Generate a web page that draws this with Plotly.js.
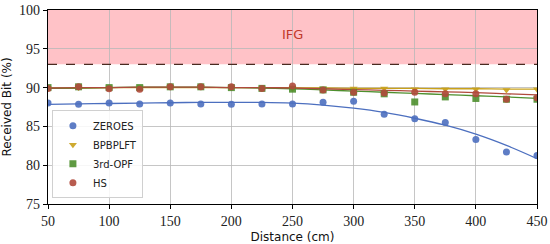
<!DOCTYPE html>
<html>
<head>
<meta charset="utf-8">
<script src="https://cdn.plot.ly/plotly-3.0.1.min.js"></script>
<style>html,body{margin:0;padding:0;background:#fff;}#chart{width:550px;height:244px;}</style>
</head>
<body>
<div id="chart"></div>
<script>
const distance = [50,75,100,125,150,175,200,225,250,275,300,325,350,375,400,425,450];
const seriesNames = ['ZEROES','BPBPLFT','3rd-OPF','HS'];
const zeroes  = [88.0,87.85,88.0,87.9,88.0,87.9,87.85,87.9,87.9,88.1,88.25,86.55,86.0,85.5,83.3,81.7,81.25];
const bpbplft = [89.9,90.0,90.0,90.0,90.1,90.1,90.0,89.9,89.9,89.9,89.9,89.9,89.8,89.8,89.8,89.7,89.8];
const opf3    = [90.0,90.1,90.0,90.0,90.1,90.1,90.0,89.9,89.8,89.7,89.4,89.2,88.15,88.8,88.6,88.5,88.5];
const hs      = [89.9,90.1,89.85,89.8,90.1,90.1,90.1,89.9,90.2,89.7,89.4,89.3,89.4,89.2,89.2,88.5,88.7];
// fitted curves
const zeroesFit  = [87.85,87.9,87.95,88.0,88.05,88.1,88.1,88.1,88.0,87.75,87.35,86.8,86.05,85.15,84.0,82.55,80.85];
const bpbplftFit = [89.9,89.95,90.0,90.0,90.0,90.0,90.0,90.0,89.95,89.95,89.9,89.9,89.9,89.85,89.85,89.8,89.8];
const opf3Fit    = [89.9,89.95,90.0,90.05,90.05,90.05,90.0,89.95,89.85,89.7,89.55,89.4,89.25,89.1,88.95,88.8,88.6];
const hsFit      = [89.95,90.0,90.0,90.05,90.05,90.05,90.0,90.0,89.95,89.85,89.75,89.65,89.55,89.45,89.35,89.2,89.05];
const xTicks = [50,100,150,200,250,300,350,400,450];
const yTicks = [75,80,85,90,95,100];
const ifgLevel = 93;

const colors = ['#4c6fbf','#c9a11a','#4e8f2e','#b04a3c'];
const symbols = ['circle','triangle-down','square','circle'];
const pts = [zeroes,bpbplft,opf3,hs];
const fits = [zeroesFit,bpbplftFit,opf3Fit,hsFit];

const traces = [];
fits.forEach((f,i)=>{
  traces.push({x:distance,y:f,mode:'lines',line:{color:colors[i],width:1.3,shape:'spline'},showlegend:false,hoverinfo:'skip'});
});
pts.forEach((p,i)=>{
  traces.push({x:distance,y:p,mode:'markers',name:seriesNames[i],
    marker:{color:colors[i],symbol:symbols[i],size:7,opacity:0.9}});
});

const layout = {
  width:550,height:244,
  margin:{l:48,r:13,t:10,b:40},
  paper_bgcolor:'#fff',plot_bgcolor:'#fff',
  showlegend:true,
  legend:{x:0.008,y:0.03,xanchor:'left',yanchor:'bottom',bgcolor:'rgba(255,255,255,0.85)',
    bordercolor:'#d0d0d0',borderwidth:1,font:{family:'DejaVu Sans',size:10,color:'#222'},
    tracegroupgap:0,itemwidth:30},
  xaxis:{range:[50,450],tickvals:xTicks,ticktext:xTicks.map(String),
    showgrid:true,gridcolor:'#b8b8b8',gridwidth:0.8,zeroline:false,
    showline:true,linecolor:'#000',linewidth:1.2,mirror:true,ticks:'outside',ticklen:4,tickcolor:'#000',
    tickfont:{family:'Liberation Serif, serif',size:14,color:'#222'},
    title:{text:'Distance (cm)',font:{family:'DejaVu Sans',size:12,color:'#111'},standoff:6}},
  yaxis:{range:[75,100],tickvals:yTicks,ticktext:yTicks.map(String),
    showgrid:true,gridcolor:'#b8b8b8',gridwidth:0.8,zeroline:false,
    showline:true,linecolor:'#000',linewidth:1.2,mirror:true,ticks:'outside',ticklen:4,tickcolor:'#000',
    tickfont:{family:'Liberation Serif, serif',size:14,color:'#222'},
    title:{text:'Received Bit (%)',font:{family:'DejaVu Sans',size:12,color:'#111'},standoff:6}},
  shapes:[
    {type:'rect',xref:'paper',x0:0,x1:1,yref:'y',y0:ifgLevel,y1:100,fillcolor:'rgba(255,120,130,0.45)',line:{width:0},layer:'below'},
    {type:'line',xref:'paper',x0:0,x1:1,yref:'y',y0:ifgLevel,y1:ifgLevel,line:{color:'#4a2a20',width:1.3,dash:'dash'}}
  ],
  annotations:[
    {x:250,y:96.8,xref:'x',yref:'y',text:'IFG',showarrow:false,font:{family:'DejaVu Sans',size:13,color:'#c0392b'}}
  ]
};
Plotly.newPlot('chart',traces,layout,{displayModeBar:false,staticPlot:true});
</script>
</body>
</html>
